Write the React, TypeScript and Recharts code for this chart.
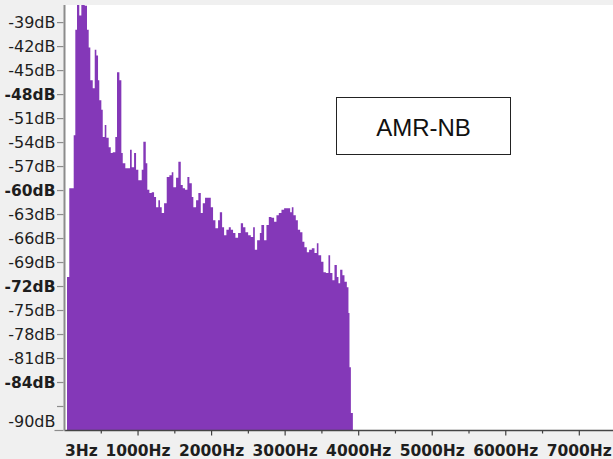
import React from 'react';
import { AreaChart, Area, XAxis, YAxis, CartesianGrid } from 'recharts';

// Spectrum readings (frequency in Hz, level in dB)
const freqHz = [
  34, 65, 125, 147, 170, 201, 229, 275, 306, 329, 351, 384, 411, 433, 456, 473, 501, 520, 547, 569,
  601, 629, 656, 691, 714, 746, 773, 792, 827, 891, 914, 946, 973, 1004, 1050, 1072, 1105, 1126, 1154, 1186,
  1218, 1245, 1276, 1299, 1322, 1354, 1390, 1426, 1458, 1480, 1517, 1548, 1581, 1608, 1639, 1671, 1698, 1731, 1752, 1789,
  1820, 1853, 1880, 1911, 1989, 2020, 2052, 2088, 2112, 2143, 2170, 2201, 2234, 2261, 2292, 2324, 2360, 2397, 2428, 2460,
  2497, 2533, 2565, 2588, 2619, 2656, 2677, 2714, 2746, 2778, 2814, 2850, 2882, 2914, 2950, 2986, 3068, 3091, 3113, 3145,
  3173, 3204, 3235, 3262, 3295, 3326, 3363, 3399, 3431, 3453, 3490, 3521, 3554, 3589, 3612, 3643, 3671, 3703, 3725, 3748,
  3779, 3807, 3839, 3861, 3875, 3894, 3921,
];
const levelDb = [
  -70.8, -59.7, -53.1, -39.9, -36, -38.1, -36, -36.9, -39.9, -42.1, -46.2, -47.2, -42.4, -43.1, -46.2, -48.7, -49.9, -53.3, -51.8, -53.4,
  -54.6, -55.3, -55.2, -53.3, -45.2, -46.2, -55.3, -56.6, -57.2, -54.9, -57.1, -55.3, -57.4, -58.7, -57.4, -53.9, -56.6, -59.9, -60.3, -60.2,
  -60.8, -62.1, -61.2, -62.1, -62.8, -61.6, -58.3, -58.1, -57.7, -59.6, -58.4, -56.4, -59.3, -59.7, -59.9, -58.3, -59.1, -60.8, -62.1, -61.2,
  -60.3, -62.8, -61.6, -60.9, -62.1, -63.7, -64.7, -63.7, -62.7, -64.6, -65.6, -64.9, -64.6, -64.9, -65.3, -65.9, -65.3, -64.1, -64.6, -65.2,
  -65.6, -65.8, -64.6, -67.4, -66.2, -65.3, -64.3, -66.2, -64.3, -63.3, -63.4, -63.9, -63.1, -62.8, -62.4, -62.2, -62.7, -62.1, -63.1, -63.7,
  -64.9, -65.2, -66.4, -67.1, -67.7, -67.4, -67.2, -67.8, -66.6, -68.1, -68.9, -70.2, -70.3, -68.1, -70.3, -71.2, -69.3, -70.8, -71.6, -69.9,
  -70.6, -71.4, -72.1, -75.3, -82.1, -87.8, -90,
];

const yTicks = [-39, -42, -45, -48, -51, -54, -57, -60, -63, -66, -69, -72, -75, -78, -81, -84, -87, -90];
const yBold = [-48, -60, -72, -84];
const yUnlabeled = [-87];
const xTicks = [0, 500, 1000, 1500, 2000, 2500, 3000, 3500, 4000, 4500, 5000, 5500, 6000, 6500, 7000];
const xLabels: Record<number, string> = {
  0: '3Hz', 1000: '1000Hz', 2000: '2000Hz', 3000: '3000Hz', 4000: '4000Hz', 5000: '5000Hz', 6000: '6000Hz', 7000: '7000Hz',
};
const codecLabel = 'AMR-NB';

const spectrum = freqHz.map((hz, i) => ({ hz, db: levelDb[i] }));

const FONT = '"DejaVu Sans", sans-serif';

const YTick = (props: any) => {
  const { x, y, payload } = props;
  const v = payload.value as number;
  const bold = yBold.includes(v);
  const showLabel = !yUnlabeled.includes(v);
  const ty = v === -90 ? y - 9 : y;
  return (
    <g>
      <line x1={x - (v === -90 ? 10 : 7.5)} x2={x - 1} y1={y} y2={y} stroke="#8c8c8c" strokeWidth={1.2} />
      {showLabel && (
        <text
          x={x - 9}
          y={ty}
          textAnchor="end"
          dominantBaseline="central"
          fontFamily={FONT}
          fontSize={bold ? 15.5 : 16}
          fontWeight={bold ? 'bold' : 'normal'}
          fill="#1e1e1e"
        >
          {`${v}dB`}
        </text>
      )}
    </g>
  );
};

const XTick = (props: any) => {
  const { x, y, payload } = props;
  const v = payload.value as number;
  const label = xLabels[v];
  const major = v % 1000 === 0;
  return (
    <g>
      {v !== 0 && <line x1={x} x2={x} y1={y} y2={y + (major ? 5 : 3)} stroke="#404040" strokeWidth={1.2} />}
      {label && (
        <text
          x={v === 0 ? x + 0.5 : x}
          y={y + 25.5}
          textAnchor={v === 0 ? 'start' : 'middle'}
          fontFamily={FONT}
          fontSize={15.5}
          fontWeight="bold"
          fill="#1e1e1e"
        >
          {label}
        </text>
      )}
    </g>
  );
};

export default function App() {
  return (
    <div style={{ position: 'relative', width: 613, height: 459, background: '#f0f0f0', overflow: 'hidden' }}>
      <style>{'body{margin:0}'}</style>
      <AreaChart width={613} height={459} data={spectrum} margin={{ top: 5, right: 0, bottom: 0, left: 0 }}>
        <CartesianGrid horizontal={false} vertical={false} fill="#ffffff" stroke="none" />
        <XAxis
          dataKey="hz"
          type="number"
          domain={[0, 7458]}
          allowDataOverflow
          ticks={xTicks}
          interval={0}
          height={28.5}
          tickSize={0}
          tickMargin={0}
          tickLine={false}
          axisLine={{ stroke: '#454545', strokeWidth: 1.5 }}
          tick={<XTick />}
        />
        <YAxis
          type="number"
          domain={[-90, -36.8]}
          allowDataOverflow
          ticks={yTicks}
          interval={0}
          width={64.5}
          tickSize={0}
          tickMargin={0}
          tickLine={false}
          axisLine={{ stroke: '#8c8c8c', strokeWidth: 2 }}
          tick={<YTick />}
        />
        <Area
          dataKey="db"
          type="stepAfter"
          baseValue={-90}
          stroke="none"
          fill="#8438b8"
          fillOpacity={1}
          dot={false}
          activeDot={false}
          isAnimationActive={false}
        />
      </AreaChart>
      <div
        style={{
          position: 'absolute',
          left: 336,
          top: 97,
          width: 175,
          height: 58,
          boxSizing: 'border-box',
          border: '1.5px solid #222',
          background: '#fff',
          display: 'flex',
          alignItems: 'center',
          justifyContent: 'center',
          paddingTop: 4,
          fontFamily: '"Liberation Sans", Arial, sans-serif',
          fontSize: 24,
          color: '#111',
        }}
      >
        {codecLabel}
      </div>
    </div>
  );
}
